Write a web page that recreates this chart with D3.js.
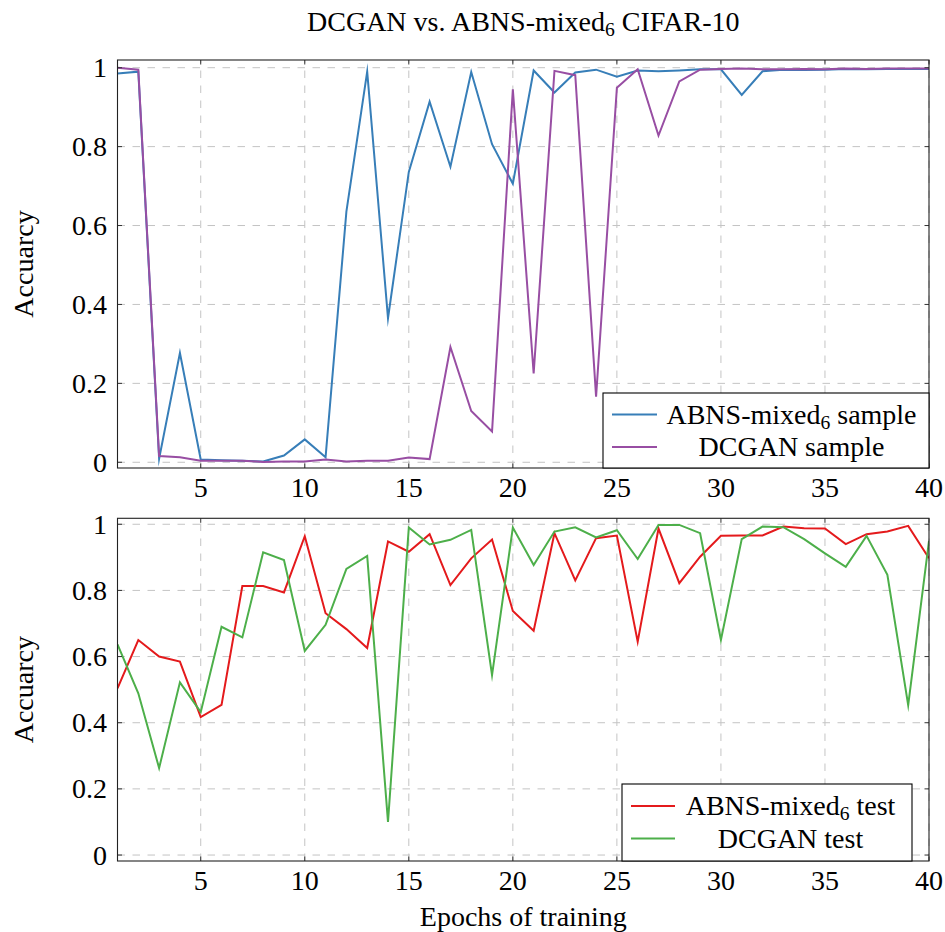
<!DOCTYPE html>
<html>
<head>
<meta charset="utf-8">
<script src="https://cdn.jsdelivr.net/npm/d3@7/dist/d3.min.js"></script>
<style>
  body { margin: 0; background: #fff; }
  svg text { font-family: "Liberation Serif", "DejaVu Serif", serif; fill: #000; }
</style>
</head>
<body>
<div id="chart"></div>
<script>
// Data
const EPOCHS = [1, 2, 3, 4, 5, 6, 7, 8, 9, 10, 11, 12, 13, 14, 15, 16, 17, 18, 19, 20,
                21, 22, 23, 24, 25, 26, 27, 28, 29, 30, 31, 32, 33, 34, 35, 36, 37, 38, 39, 40];

const ABNS_SAMPLE = [0.985, 0.990, 0.009, 0.277, 0.007, 0.005, 0.004, 0.002, 0.017, 0.058,
                     0.013, 0.635, 0.990, 0.365, 0.736, 0.914, 0.749, 0.989, 0.806, 0.706,
                     0.993, 0.937, 0.988, 0.995, 0.977, 0.993, 0.991, 0.993, 0.996, 0.996,
                     0.931, 0.991, 0.995, 0.994, 0.995, 0.997, 0.996, 0.997, 0.997, 0.997];

const DCGAN_SAMPLE = [1.000, 0.995, 0.016, 0.013, 0.004, 0.004, 0.004, 0.001, 0.002, 0.002,
                      0.007, 0.002, 0.004, 0.004, 0.012, 0.008, 0.292, 0.130, 0.078, 0.945,
                      0.225, 0.992, 0.981, 0.166, 0.949, 0.996, 0.828, 0.965, 0.995, 0.997,
                      0.998, 0.996, 0.996, 0.997, 0.996, 0.998, 0.997, 0.998, 0.998, 0.998];

const ABNS_TEST = [0.504, 0.650, 0.600, 0.585, 0.417, 0.454, 0.813, 0.813, 0.794, 0.964,
                   0.731, 0.683, 0.626, 0.948, 0.917, 0.970, 0.816, 0.897, 0.954, 0.738,
                   0.678, 0.973, 0.830, 0.958, 0.966, 0.645, 0.987, 0.822, 0.902, 0.965,
                   0.966, 0.966, 0.993, 0.988, 0.987, 0.940, 0.970, 0.978, 0.995, 0.897];

const DCGAN_TEST = [0.637, 0.489, 0.263, 0.522, 0.432, 0.690, 0.658, 0.915, 0.892, 0.617,
                    0.696, 0.865, 0.904, 0.100, 0.990, 0.939, 0.953, 0.983, 0.544, 0.990,
                    0.877, 0.978, 0.991, 0.960, 0.982, 0.895, 0.998, 0.998, 0.973, 0.650,
                    0.955, 0.993, 0.991, 0.955, 0.912, 0.871, 0.965, 0.847, 0.453, 0.950];

const X_TICKS = [5, 10, 15, 20, 25, 30, 35, 40];
const Y_TICKS = [0, 0.2, 0.4, 0.6, 0.8, 1];
const Y_TICK_LABELS = ["0", "0.2", "0.4", "0.6", "0.8", "1"];

// Layout
const W = 945, H = 932;
const X_RANGE = [117.5, 929];
const FONT = 28;
const TICK_LEN = 4.5;
const LINE_W = 2;

const panels = [
    {
        top: 60, bottom: 468, yDomain: [-0.0145, 1.0195], tickLabelY: 497,
        series: [
            { label: ["ABNS-mixed", "6", " sample"], values: ABNS_SAMPLE, color: "#377eb8" },
            { label: ["DCGAN sample"], values: DCGAN_SAMPLE, color: "#984ea3" }
        ],
        legend: { x0: 603, y0: 393, x1: 929, y1: 468, rows: [414.5, 447], line: [612, 657], textX: 791.5 }
    },
    {
        top: 518.3, bottom: 861, yDomain: [-0.018, 1.018], tickLabelY: 890,
        series: [
            { label: ["ABNS-mixed", "6", " test"], values: ABNS_TEST, color: "#e41a1c" },
            { label: ["DCGAN test"], values: DCGAN_TEST, color: "#4daf4a" }
        ],
        legend: { x0: 622, y0: 784, x1: 912, y1: 861, rows: [806, 838.5], line: [631, 675], textX: 790.5 }
    }
];

const svg = d3.select("#chart")
    .append("svg")
    .attr("width", W)
    .attr("height", H);

const x = d3.scaleLinear().domain([1, 40]).range(X_RANGE);

// Draws a label with an optional subscript part
function labelText(sel, parts) {
    sel.append("tspan").text(parts[0]);
    if (parts.length > 1) {
        sel.append("tspan").attr("font-size", FONT * 0.7).attr("dy", 5).text(parts[1]);
        sel.append("tspan").attr("dy", -5).text(parts[2]);
    }
}

panels.forEach((p, i) => {
    const y = d3.scaleLinear().domain(p.yDomain).range([p.bottom, p.top]);
    const g = svg.append("g");

    // grid
    g.selectAll(".vgrid")
        .data(X_TICKS)
        .join("line")
        .attr("x1", d => x(d)).attr("x2", d => x(d))
        .attr("y1", p.bottom).attr("y2", p.top)
        .attr("stroke", "#c4c4c4")
        .attr("stroke-width", 1)
        .attr("stroke-dasharray", "7.5,7.5");

    g.selectAll(".hgrid")
        .data(Y_TICKS)
        .join("line")
        .attr("x1", X_RANGE[0]).attr("x2", X_RANGE[1])
        .attr("y1", d => y(d)).attr("y2", d => y(d))
        .attr("stroke", "#c4c4c4")
        .attr("stroke-width", 1)
        .attr("stroke-dasharray", "7.5,7.5");

    // clip region
    svg.append("clipPath")
        .attr("id", `clip${i}`)
        .append("rect")
        .attr("x", X_RANGE[0]).attr("y", p.top)
        .attr("width", X_RANGE[1] - X_RANGE[0])
        .attr("height", p.bottom - p.top);

    const line = d3.line()
        .x((d, j) => x(EPOCHS[j]))
        .y(d => y(d));

    g.append("g")
        .attr("clip-path", `url(#clip${i})`)
        .selectAll("path")
        .data(p.series)
        .join("path")
        .attr("d", d => line(d.values))
        .attr("fill", "none")
        .attr("stroke", d => d.color)
        .attr("stroke-width", LINE_W)
        .attr("stroke-linejoin", "miter")
        .attr("stroke-miterlimit", 10);

    // ticks, inside on all four sides
    X_TICKS.forEach(t => {
        g.append("line").attr("x1", x(t)).attr("x2", x(t))
            .attr("y1", p.bottom).attr("y2", p.bottom - TICK_LEN)
            .attr("stroke", "#333");
        g.append("line").attr("x1", x(t)).attr("x2", x(t))
            .attr("y1", p.top).attr("y2", p.top + TICK_LEN)
            .attr("stroke", "#333");
    });
    Y_TICKS.forEach(t => {
        g.append("line").attr("x1", X_RANGE[0]).attr("x2", X_RANGE[0] + TICK_LEN)
            .attr("y1", y(t)).attr("y2", y(t))
            .attr("stroke", "#333");
        g.append("line").attr("x1", X_RANGE[1]).attr("x2", X_RANGE[1] - TICK_LEN)
            .attr("y1", y(t)).attr("y2", y(t))
            .attr("stroke", "#333");
    });

    // frame
    g.append("rect")
        .attr("x", X_RANGE[0]).attr("y", p.top)
        .attr("width", X_RANGE[1] - X_RANGE[0])
        .attr("height", p.bottom - p.top)
        .attr("fill", "none")
        .attr("stroke", "#222")
        .attr("stroke-width", 1.1);

    // tick labels
    g.selectAll(".xlab")
        .data(X_TICKS)
        .join("text")
        .attr("x", d => x(d))
        .attr("y", p.tickLabelY)
        .attr("text-anchor", "middle")
        .attr("font-size", FONT)
        .text(d => d);

    g.selectAll(".ylab")
        .data(Y_TICKS)
        .join("text")
        .attr("x", 107)
        .attr("y", d => y(d))
        .attr("dy", "0.34em")
        .attr("text-anchor", "end")
        .attr("font-size", FONT)
        .text((d, j) => Y_TICK_LABELS[j]);

    // y axis label
    g.append("text")
        .attr("transform", `translate(33, ${(p.top + p.bottom) / 2}) rotate(-90)`)
        .attr("text-anchor", "middle")
        .attr("font-size", FONT)
        .text("Accuarcy");

    // legend
    const L = p.legend;
    const lg = g.append("g");
    lg.append("rect")
        .attr("x", L.x0).attr("y", L.y0)
        .attr("width", L.x1 - L.x0).attr("height", L.y1 - L.y0)
        .attr("fill", "#fff")
        .attr("stroke", "#000")
        .attr("stroke-width", 1.1);
    p.series.forEach((s, j) => {
        lg.append("line")
            .attr("x1", L.line[0]).attr("x2", L.line[1])
            .attr("y1", L.rows[j]).attr("y2", L.rows[j])
            .attr("stroke", s.color)
            .attr("stroke-width", LINE_W);
        lg.append("text")
            .attr("x", L.textX)
            .attr("y", L.rows[j] + 9)
            .attr("text-anchor", "middle")
            .attr("font-size", FONT)
            .call(labelText, s.label);
    });
});

// title
svg.append("text")
    .attr("x", (X_RANGE[0] + X_RANGE[1]) / 2)
    .attr("y", 31)
    .attr("text-anchor", "middle")
    .attr("font-size", FONT)
    .call(labelText, ["DCGAN vs. ABNS-mixed", "6", " CIFAR-10"]);

// x axis label
svg.append("text")
    .attr("x", (X_RANGE[0] + X_RANGE[1]) / 2)
    .attr("y", 926)
    .attr("text-anchor", "middle")
    .attr("font-size", FONT)
    .text("Epochs of training");
</script>
</body>
</html>
